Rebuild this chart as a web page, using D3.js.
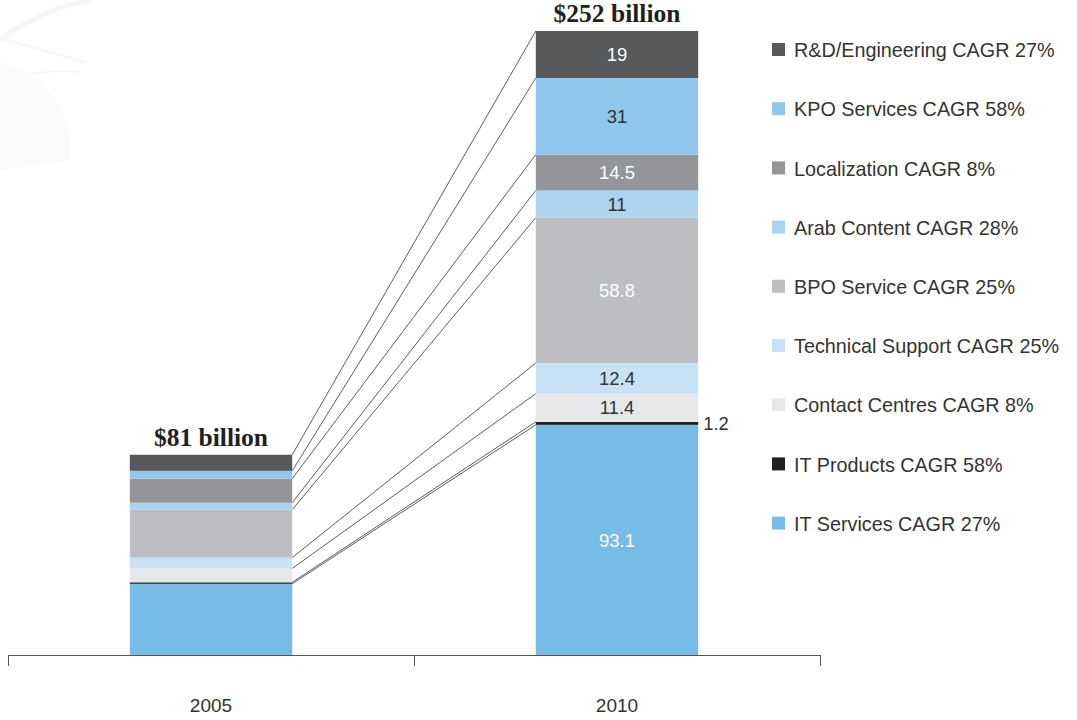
<!DOCTYPE html>
<html>
<head>
<meta charset="utf-8">
<script src="https://cdn.jsdelivr.net/npm/d3@7"></script>
<style>
  html, body { margin: 0; padding: 0; background: #fff; }
  svg { display: block; }
</style>
</head>
<body>
<svg id="chart" width="1077" height="720"></svg>
<script>
// Years on the x axis
const years = ["2005", "2010"];

// Segments, stacked bottom to top
const segments = [
  "IT Services", "IT Products", "Contact Centres", "Technical Support",
  "BPO Service", "Arab Content", "Localization", "KPO Services", "R&D/Engineering"
];
const cagr = ["27%", "58%", "8%", "25%", "25%", "28%", "8%", "58%", "27%"];

// Revenue in US$ billion per segment
const values2005 = [28.8, 0.6, 5.6, 4.4, 19.4, 2.8, 9.7, 3.2, 6.5];
const values2010 = [93.1, 1.2, 11.4, 12.4, 58.8, 11, 14.5, 31, 19];

// Totals shown above the bars
const totalLabels = ["$81 billion", "$252 billion"];

const colors = ["#77bce6", "#231f20", "#e6e7e8", "#c7e2f5", "#bcbec1",
                "#acd3f0", "#939598", "#8fc8ec", "#58595b"];
const labelColors = ["#ffffff", "#333333", "#333333", "#333333", "#ffffff",
                     "#333333", "#ffffff", "#333333", "#ffffff"];

const sans = "'Liberation Sans', Arial, sans-serif";
const svg = d3.select("#chart");

// faint decorative swooshes in the upper-left corner
const deco = svg.append("g").attr("fill", "none").attr("stroke", "#f6f6f6");
deco.append("path").attr("d", "M0,40 Q40,10 90,0").attr("stroke-width", 5);
deco.append("path").attr("d", "M0,38 Q60,55 85,62").attr("stroke-width", 2);
deco.append("path").attr("d", "M0,85 Q30,68 80,72").attr("stroke-width", 1.5);
deco.append("path").attr("d", "M0,125 Q40,138 60,150").attr("stroke-width", 1.5);
deco.append("path").attr("d", "M0,62 C40,72 75,110 70,160 L0,170 Z")
  .attr("fill", "#fbfbfb").attr("stroke", "none");

const baseY = 655, topY = 31;

const x = d3.scaleBand().domain(years).range([8, 820]).padding(0);
const y = d3.scaleLinear().domain([0, d3.sum(values2010)]).range([baseY, topY]);

const barW = x.bandwidth() * 0.4;
const barX = yr => x(yr) + x.bandwidth() / 2 - barW / 2;

// cumulative [bottom, top] of each segment within a year
function stackYear(vals) {
  let acc = 0;
  return vals.map(v => { const r = [acc, acc + v]; acc += v; return r; });
}
const stacked = { "2005": stackYear(values2005), "2010": stackYear(values2010) };

// connector lines from the top of each 2005 segment to the top of the 2010 segment
const conn = svg.append("g").attr("stroke", "#333").attr("stroke-width", 0.8);
segments.forEach((s, i) => {
  conn.append("line")
    .attr("x1", barX("2005") + barW)
    .attr("y1", y(stacked["2005"][i][1]))
    .attr("x2", barX("2010"))
    .attr("y2", y(stacked["2010"][i][1]));
});

// bars
years.forEach(yr => {
  svg.append("g").selectAll("rect").data(stacked[yr]).join("rect")
    .attr("x", barX(yr))
    .attr("width", barW)
    .attr("y", d => y(d[1]))
    .attr("height", d => y(d[0]) - y(d[1]))
    .attr("fill", (d, i) => colors[i]);
});

// value labels on the 2010 bar
const cx2010 = barX("2010") + barW / 2;
const lab = svg.append("g").attr("font-family", sans).attr("font-size", 18.5);
values2010.forEach((v, i) => {
  const [a, b] = stacked["2010"][i];
  const t = lab.append("text")
    .attr("y", y((a + b) / 2))
    .attr("dy", "0.36em")
    .text(v);
  if (i === 1) {
    t.attr("x", barX("2010") + barW + 5).attr("fill", "#333");
  } else {
    t.attr("x", cx2010).attr("text-anchor", "middle").attr("fill", labelColors[i]);
  }
});

// totals
years.forEach((yr, k) => {
  const tot = d3.sum(k === 0 ? values2005 : values2010);
  svg.append("text")
    .attr("x", barX(yr) + barW / 2)
    .attr("y", y(tot) - 9)
    .attr("text-anchor", "middle")
    .attr("font-family", "'Liberation Serif', 'Times New Roman', serif")
    .attr("font-weight", "bold")
    .attr("font-size", 25.5)
    .attr("fill", "#231f20")
    .text(totalLabels[k]);
});

// x axis: baseline with ticks at category boundaries
const axis = svg.append("g").attr("stroke", "#555").attr("stroke-width", 1);
axis.append("line")
  .attr("x1", x.range()[0]).attr("x2", x.range()[1])
  .attr("y1", baseY + 0.5).attr("y2", baseY + 0.5);
const edges = years.map(yr => x(yr)).concat([x.range()[1]]);
axis.selectAll("line.tick").data(edges).join("line")
  .attr("class", "tick")
  .attr("x1", d => d + 0.5).attr("x2", d => d + 0.5)
  .attr("y1", baseY).attr("y2", baseY + 11);
svg.append("g")
  .attr("font-family", sans).attr("font-size", 19).attr("fill", "#333")
  .selectAll("text").data(years).join("text")
  .attr("x", d => x(d) + x.bandwidth() / 2)
  .attr("y", 712)
  .attr("text-anchor", "middle")
  .text(d => d);

// legend, top entry first
const legend = svg.append("g")
  .attr("font-family", sans).attr("font-size", 19.8).attr("fill", "#333");
const order = d3.range(segments.length).reverse();
order.forEach((i, r) => {
  const cy = 50 + r * 59.2;
  legend.append("rect")
    .attr("x", 772).attr("y", cy - 7).attr("width", 13).attr("height", 13)
    .attr("fill", colors[i]);
  legend.append("text")
    .attr("x", 794).attr("y", cy).attr("dy", "0.36em")
    .text(`${segments[i]} CAGR ${cagr[i]}`);
});
</script>
</body>
</html>
